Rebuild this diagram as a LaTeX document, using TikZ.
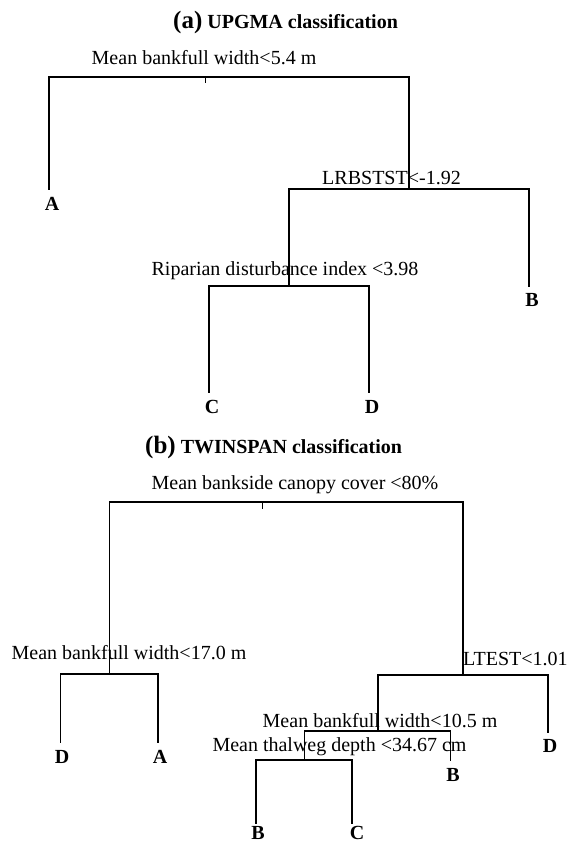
\documentclass[tikz,border=0pt]{standalone}
\usepackage{fontspec}
\setmainfont{Liberation Serif}
\begin{document}
\begin{tikzpicture}[x=1pt,y=-1pt,
  lbl/.style={inner sep=0pt,anchor=base,font=\fontsize{20}{24}\selectfont},
  leaf/.style={inner sep=0pt,anchor=base,font=\fontsize{20}{24}\selectfont\bfseries},
  ttl/.style={inner sep=0pt,anchor=base west,font=\fontsize{20}{24}\selectfont\bfseries},
  br/.style={line width=1.1pt,line cap=rect},
  tick/.style={line width=0.6pt}]
\useasboundingbox (0,0) rectangle (568,843);
% ---------- panel (a) ----------
\node[ttl] (ta) at (173,29) {{\fontsize{25}{30}\selectfont (a)} UPGMA classification};
\node[lbl] (q1) at (204,65) {Mean bankfull width<5.4 m};
\node[lbl] (q2) at (391.5,184) {LRBSTST<-1.92};
\node[lbl] (q3) at (285,275.5) {Riparian disturbance index <3.98};
\coordinate (r1) at (205,77);
\coordinate (r1t) at (205,83);
\coordinate (lA) at (49,189);
\coordinate (s1) at (409,189);
\coordinate (lB) at (529,286);
\coordinate (s2) at (289,286);
\coordinate (lC) at (209,392);
\coordinate (lD) at (369,392);
\draw[br] (lA) |- (r1) -| (s1);
\draw[tick] (r1) -- (r1t);
\draw[br] (s2) |- (s1) -| (lB);
\draw[br] (lC) |- (s2) -| (lD);
\node[leaf] (nA) at (52,210) {A};
\node[leaf] (nB) at (532,306.5) {B};
\node[leaf] (nC) at (212,413.5) {C};
\node[leaf] (nD) at (372,413.5) {D};
% ---------- panel (b) ----------
\node[ttl] (tb) at (145,453) {{\fontsize{25}{30}\selectfont (b)} TWINSPAN classification};
\node[lbl] (p1) at (295,489.5) {Mean bankside canopy cover <80\%};
\node[lbl] (p2) at (129,659.5) {Mean bankfull width<17.0 m};
\node[lbl,anchor=base west] (p3) at (463,665.5) {LTEST<1.01};
\node[lbl] (p4) at (380,727.5) {Mean bankfull width<10.5 m};
\node[lbl] (p5) at (339.5,751.5) {Mean thalweg depth <34.67 cm};
\coordinate (r2) at (262,502);
\coordinate (r2t) at (262,509);
\coordinate (t1) at (109.5,674);
\coordinate (t2) at (463,675);
\coordinate (lD1) at (60.5,742);
\coordinate (lA2) at (158,742);
\coordinate (t3) at (378,731);
\coordinate (lD2) at (548,732);
\coordinate (t4) at (304.5,760);
\coordinate (lB2) at (450.6,760);
\coordinate (lB3) at (256,823);
\coordinate (lC2) at (352,823);
\draw[br] (t1) |- (r2) -| (t2);
\draw[tick] (r2) -- (r2t);
\draw[br] (lD1) |- (t1) -| (lA2);
\draw[br] (t3) |- (t2) -| (lD2);
\draw[br] (t4) |- (t3) -| (lB2);
\draw[br] (lB3) |- (t4) -| (lC2);
\node[leaf] (mD1) at (62,763.5) {D};
\node[leaf] (mA2) at (160,763.5) {A};
\node[leaf] (mD2) at (550,752.5) {D};
\node[leaf] (mB2) at (453,781.5) {B};
\node[leaf] (mB3) at (258,839) {B};
\node[leaf] (mC2) at (357,839) {C};
\end{tikzpicture}
\end{document}
